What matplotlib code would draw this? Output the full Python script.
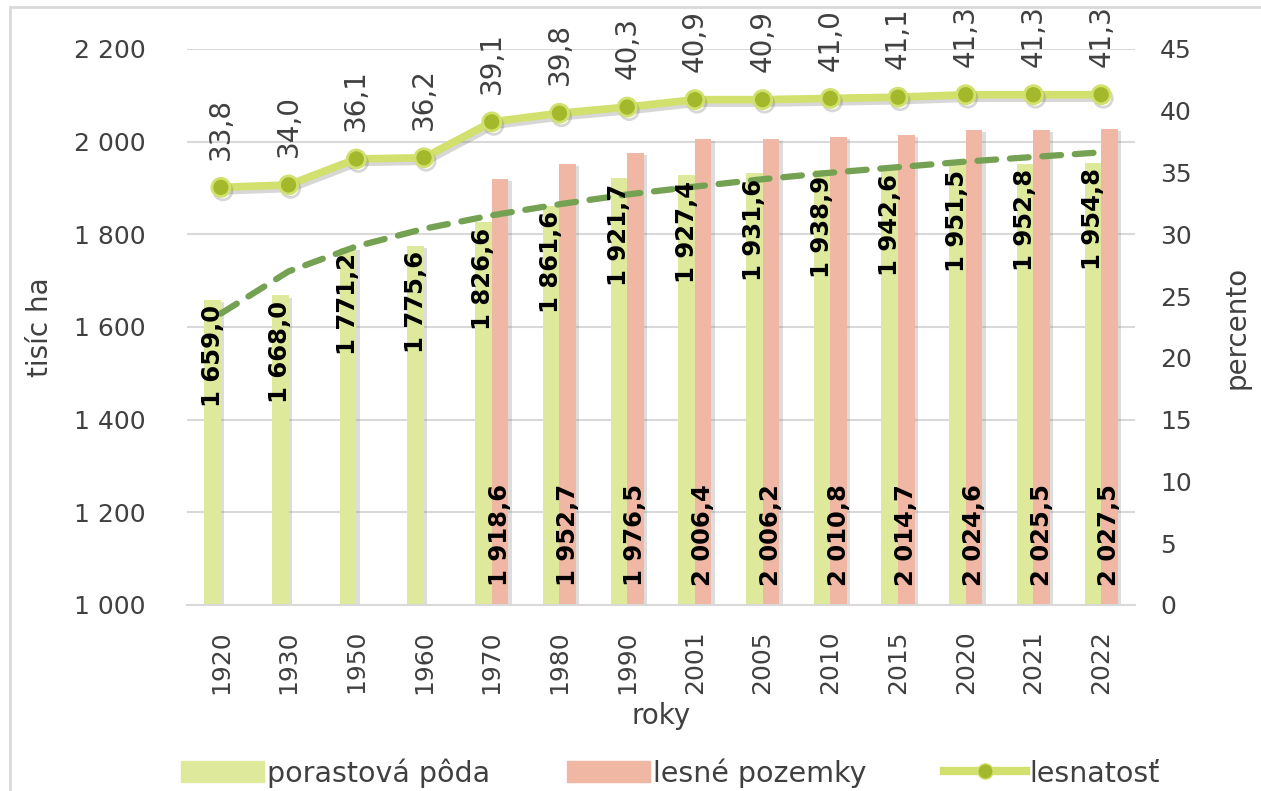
import matplotlib
matplotlib.use('Agg')
import matplotlib.pyplot as plt
import matplotlib.patheffects as pe
from matplotlib.lines import Line2D
from matplotlib.patches import Patch, Rectangle
import numpy as np

years = ['1920', '1930', '1950', '1960', '1970', '1980', '1990', '2001',
         '2005', '2010', '2015', '2020', '2021', '2022']
porastova_poda = [1659.0, 1668.0, 1771.2, 1775.6, 1826.6, 1861.6, 1921.7,
                  1927.4, 1931.6, 1938.9, 1942.6, 1951.5, 1952.8, 1954.8]
lesne_pozemky = [None, None, None, None, 1918.6, 1952.7, 1976.5,
                 2006.4, 2006.2, 2010.8, 2014.7, 2024.6, 2025.5, 2027.5]
lesnatost = [33.8, 34.0, 36.1, 36.2, 39.1, 39.8, 40.3,
             40.9, 40.9, 41.0, 41.1, 41.3, 41.3, 41.3]
# dashed trend line (left axis)
trend = [1629, 1720, 1774, 1812, 1841, 1865, 1886,
         1903, 1919, 1933, 1945, 1957, 1967, 1977]
left_ticks = [1000, 1200, 1400, 1600, 1800, 2000, 2200]
right_ticks = [0, 5, 10, 15, 20, 25, 30, 35, 40, 45]

GREEN_BAR = '#dfe99c'
SALMON = '#f0b7a4'
LINE_C = '#d2e06e'
MARK_C = '#a3b82a'
TREND_C = '#74a152'
TXT = '#404040'
GRID = '#d9d9d9'

plt.rcParams['font.family'] = ['DejaVu Sans']


def fmt_num(v, dec=1):
    s = f'{v:,.{dec}f}'
    return s.replace(',', ' ').replace('.', ',')


fig = plt.figure(figsize=(12.61, 7.91), dpi=100)
fig.patches.append(Rectangle((10 / 1261, -0.01), 1.1, 1 - 7 / 791 + 0.01,
                             transform=fig.transFigure, fill=False,
                             edgecolor=GRID, lw=2))

ax = fig.add_axes([187 / 1261, 1 - 605 / 791, (1135 - 187) / 1261, (605 - 49) / 791])
x = np.arange(len(years))
w = 0.245
shadow = [pe.withSimplePatchShadow(offset=(2.5, -1.5), shadow_rgbFace='#909090', alpha=0.3)]

ax.bar(x - w / 2, porastova_poda, w, color=GREEN_BAR, zorder=2, path_effects=shadow)
idx2 = [i for i, v in enumerate(lesne_pozemky) if v is not None]
vals2 = [lesne_pozemky[i] for i in idx2]
ax.bar(x[idx2] + w / 2, vals2, w, color=SALMON, zorder=2, path_effects=shadow)

ax.plot(x, trend, color=TREND_C, lw=4.5, ls=(0, (3, 2.2)), zorder=3,
        dash_capstyle='round')

ax.set_ylim(1000, 2200)
ax.set_xlim(-0.5, len(years) - 0.5)
ax.set_yticks(left_ticks)
ax.set_yticklabels([fmt_num(t, 0) for t in left_ticks])
ax.grid(axis='y', color=GRID, lw=1.5, zorder=0)
ax.set_axisbelow(True)
for s in ['top', 'right', 'left']:
    ax.spines[s].set_visible(False)
ax.spines['bottom'].set_color(GRID)
ax.spines['bottom'].set_linewidth(1.5)
ax.tick_params(axis='y', length=0, pad=30, labelsize=18, labelcolor=TXT)
ax.set_xticks(x)
ax.set_xticklabels(years, rotation=90)
ax.tick_params(axis='x', length=0, pad=18, labelsize=18, labelcolor=TXT)
ax.set_ylabel('tisíc ha', fontsize=20, color=TXT, labelpad=14)
ax.set_xlabel('roky', fontsize=20, color=TXT, labelpad=6)

for xi, v in zip(x, porastova_poda):
    ax.annotate(fmt_num(v), (xi - w / 2, v), xytext=(0, -4),
                textcoords='offset points', rotation=90, ha='center', va='top',
                fontsize=17.5, fontweight='bold', color='black', zorder=5)
for i, v in zip(idx2, vals2):
    ax.annotate(fmt_num(v), (x[i] + w / 2, 1000), xytext=(0, 14),
                textcoords='offset points', rotation=90, ha='center', va='bottom',
                fontsize=17.5, fontweight='bold', color='black', zorder=5)

ax2 = ax.twinx()
ax2.plot(x, lesnatost, color=LINE_C, lw=5.5, marker='o', ms=13,
         markerfacecolor=MARK_C, markeredgecolor=LINE_C, markeredgewidth=2,
         zorder=4,
         path_effects=[pe.SimpleLineShadow(offset=(1.5, -2.5), shadow_color='#606060',
                                           alpha=0.25), pe.Normal()])
for xi, v in zip(x, lesnatost):
    ax2.annotate(fmt_num(v), (xi, v), xytext=(0, 20), textcoords='offset points',
                 rotation=90, ha='center', va='bottom', fontsize=20, color=TXT)
ax2.set_ylim(0, 45)
ax2.set_yticks(right_ticks)
ax2.tick_params(axis='y', length=0, pad=18, labelsize=18, labelcolor=TXT)
for s in ax2.spines.values():
    s.set_visible(False)
ax2.set_ylabel('percento', fontsize=20, color=TXT, labelpad=22)

handles = [Patch(color=GREEN_BAR), Patch(color=SALMON),
           Line2D([], [], color=LINE_C, lw=6, marker='o', ms=11,
                  markerfacecolor=MARK_C, markeredgecolor=LINE_C)]
labels = ['porastová pôda', 'lesné pozemky', 'lesnatosť']
fig.legend(handles, labels, loc='center', bbox_to_anchor=(0.532, 0.023), ncol=3,
           frameon=False, fontsize=20.5, labelcolor=TXT, handlelength=2.9,
           handleheight=0.75, handletextpad=0.12, columnspacing=2.7, numpoints=1)

fig.savefig('out.png', dpi=100)
